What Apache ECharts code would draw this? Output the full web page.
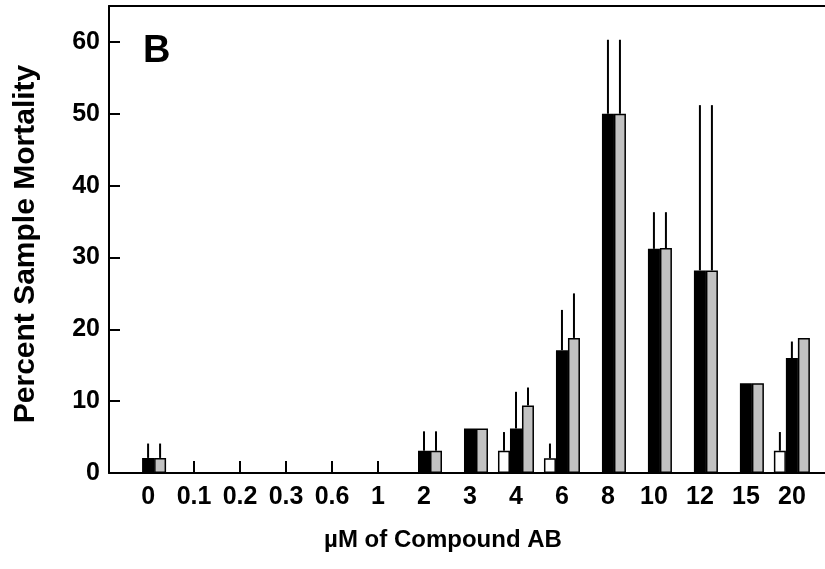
<!DOCTYPE html>
<html>
<head>
<meta charset="utf-8">
<script src="https://cdn.jsdelivr.net/npm/echarts@6/dist/echarts.min.js"></script>
<style>html,body{margin:0;padding:0;background:#fff}#c{width:825px;height:569px}</style>
</head>
<body>
<div id="c"></div>
<script>
const categories = ['0','0.1','0.2','0.3','0.6','1','2','3','4','6','8','10','12','15','20'];
const whiteVals = [0,0,0,0,0,0,0,0,3.1,2.05,0,0,0,0,3.1];
const whiteErr  = [0,0,0,0,0,0,0,0,2.6,2.05,0,0,0,0,2.6];
const blackVals = [2.1,0,0,0,0,0,3.1,6.2,6.2,17.1,50,31.2,28.2,12.5,16.0];
const blackErr  = [2.0,0,0,0,0,0,2.7,0,5.1,5.6,10.3,5.1,23,0,2.3];
const grayVals  = [2.1,0,0,0,0,0,3.1,6.2,9.4,18.8,50,31.3,28.2,12.5,18.8];
const grayErr   = [2.0,0,0,0,0,0,2.7,0,2.5,6.2,10.3,5.0,23,0,0];
const yTicks = [0,10,20,30,40,50,60];

const FONT = 'Liberation Sans';
const BAR_W = 12;
const idx = categories.map((c,i)=>i);

function barSeries(name, vals, color, border) {
  return {
    name, type: 'bar', barWidth: BAR_W, barGap: '0%',
    data: vals.map((v,i)=>[i,v]),
    itemStyle: {color: color, borderColor: '#000', borderWidth: border},
    z: 3
  };
}
function errSeries(vals, errs, shift) {
  return {
    type: 'custom', z: 4,
    data: vals.map((v,i)=>[i, v, errs[i]]),
    renderItem: function(params, api) {
      const e = api.value(2);
      if (!e) return null;
      const x = api.value(0), v = api.value(1);
      const p0 = api.coord([x, v]);
      const p1 = api.coord([x, v + e]);
      const dx = shift * BAR_W;
      return {type: 'line', shape: {x1: p0[0]+dx, y1: p0[1], x2: p1[0]+dx, y2: p1[1]},
              style: {stroke: '#000', lineWidth: 2}};
    }
  };
}

const chart = echarts.init(document.getElementById('c'));
chart.setOption({
  animation: false,
  backgroundColor: '#fff',
  grid: {left: 109, top: 6, right: 0, bottom: 96, show: false, containLabel: false},
  xAxis: [{
    type: 'value', min: -0.85, max: 14.72,
    axisLine: {show: true, onZero: false, lineStyle: {color: '#000', width: 2}},
    splitLine: {show: false},
    axisTick: {show: true, inside: true, length: 12, customValues: idx, lineStyle: {color: '#000', width: 2}},
    axisLabel: {customValues: idx, formatter: v => categories[v] ?? '', color: '#000',
                fontFamily: FONT, fontWeight: 'bold', fontSize: 25, margin: 12}
  }, {
    type: 'value', position: 'top', min: -0.85, max: 14.72,
    axisLine: {show: true, onZero: false, lineStyle: {color: '#000', width: 2}},
    axisTick: {show: false}, axisLabel: {show: false}, splitLine: {show: false}
  }],
  yAxis: {
    type: 'value', min: 0, max: 65, interval: 10,
    axisLine: {show: true, onZero: false, lineStyle: {color: '#000', width: 2}},
    splitLine: {show: false},
    axisTick: {show: true, inside: true, length: 11, lineStyle: {color: '#000', width: 2}},
    axisLabel: {formatter: v => yTicks.includes(v) ? String(v) : '', color: '#000',
                fontFamily: FONT, fontWeight: 'bold', fontSize: 25, margin: 9}
  },
  graphic: [
    {type: 'text', left: 143, top: 33, style: {text: 'B', font: 'bold 38px "Liberation Sans"', fill: '#000'}},
    {type: 'text', x: 443, y: 540, style: {text: 'µM of Compound AB', font: 'bold 24px "Liberation Sans"', fill: '#000', align: 'center', verticalAlign: 'middle'}},
    {type: 'text', x: 26, y: 244, rotation: Math.PI/2, style: {text: 'Percent Sample Mortality', font: 'bold 30px "Liberation Sans"', fill: '#000', align: 'center', verticalAlign: 'middle'}}
  ],
  series: [
    barSeries('white', whiteVals, '#fff', 1.5),
    barSeries('black', blackVals, '#000', 1.5),
    barSeries('gray', grayVals, '#c2c2c2', 1.5),
    errSeries(whiteVals, whiteErr, -1),
    errSeries(blackVals, blackErr, 0),
    errSeries(grayVals, grayErr, 1)
  ]
});
</script>
</body>
</html>
